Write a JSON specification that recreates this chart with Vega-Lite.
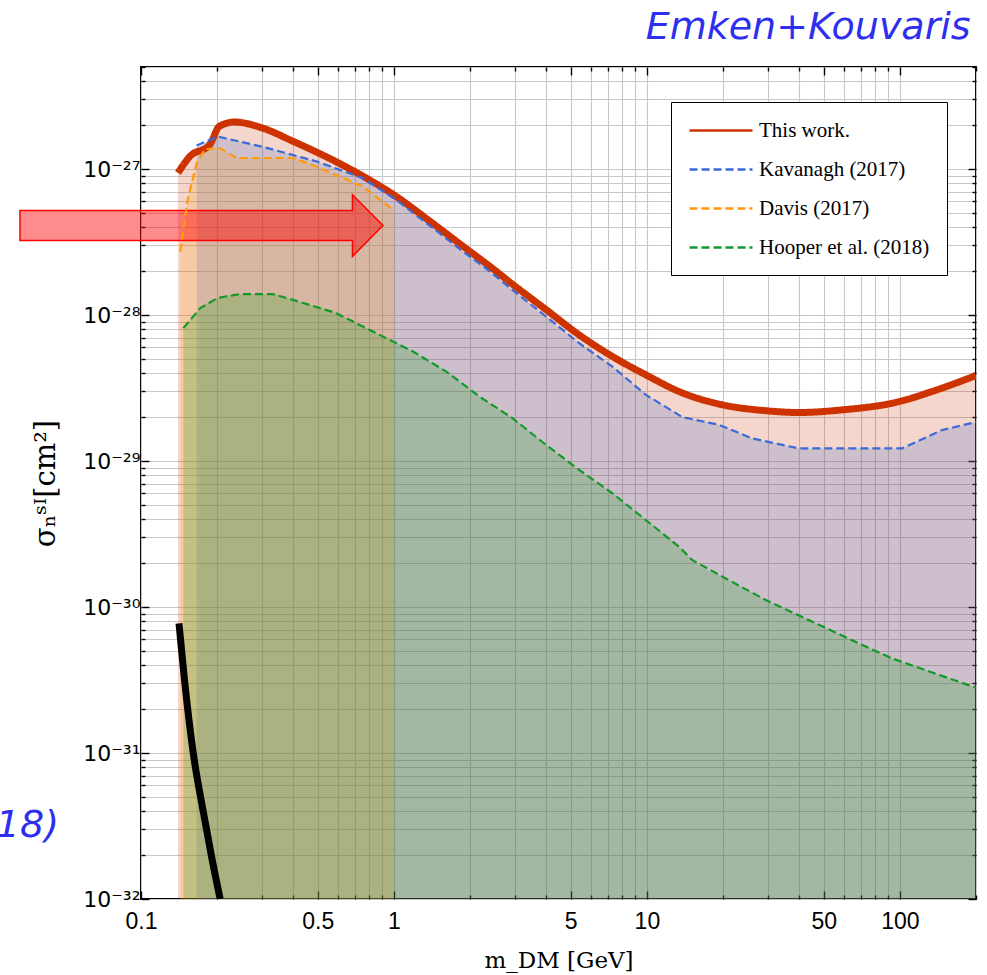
{
  "$schema": "https://vega.github.io/schema/vega-lite/v6.json",
  "autosize": "none",
  "width": 835,
  "height": 832,
  "padding": {"left": 141, "top": 67, "right": 11, "bottom": 76},
  "background": "white",
  "config": {
    "view": {"stroke": "black", "strokeWidth": 2},
    "axis": {
      "gridColor": "#C8C8C8",
      "gridWidth": 1.1,
      "tickColor": "black",
      "tickWidth": 1.4,
      "domain": false,
      "labelFont": "Liberation Sans",
      "labelFontSize": 23,
      "labelColor": "black",
      "titleColor": "black",
      "titleFontWeight": "normal"
    }
  },
  "datasets": {
    "curves": [
      {"s": "This work.", "m": 0.14, "sig": 9.4e-28},
      {"s": "This work.", "m": 0.156, "sig": 1.22e-27},
      {"s": "This work.", "m": 0.187, "sig": 1.47e-27},
      {"s": "This work.", "m": 0.204, "sig": 1.96e-27},
      {"s": "This work.", "m": 0.234, "sig": 2.10e-27},
      {"s": "This work.", "m": 0.302, "sig": 1.91e-27},
      {"s": "This work.", "m": 0.399, "sig": 1.55e-27},
      {"s": "This work.", "m": 0.592, "sig": 1.12e-27},
      {"s": "This work.", "m": 0.753, "sig": 8.95e-28},
      {"s": "This work.", "m": 1.02, "sig": 6.5e-28},
      {"s": "This work.", "m": 1.38, "sig": 4.42e-28},
      {"s": "This work.", "m": 1.86, "sig": 2.99e-28},
      {"s": "This work.", "m": 2.53, "sig": 2.0e-28},
      {"s": "This work.", "m": 2.95, "sig": 1.62e-28},
      {"s": "This work.", "m": 3.99, "sig": 1.09e-28},
      {"s": "This work.", "m": 5.40, "sig": 7.31e-29},
      {"s": "This work.", "m": 7.31, "sig": 5.20e-29},
      {"s": "This work.", "m": 9.91, "sig": 3.89e-29},
      {"s": "This work.", "m": 13.8, "sig": 2.93e-29},
      {"s": "This work.", "m": 19.8, "sig": 2.43e-29},
      {"s": "This work.", "m": 29.6, "sig": 2.21e-29},
      {"s": "This work.", "m": 39.9, "sig": 2.15e-29},
      {"s": "This work.", "m": 59.0, "sig": 2.24e-29},
      {"s": "This work.", "m": 99.1, "sig": 2.55e-29},
      {"s": "This work.", "m": 133.7, "sig": 2.99e-29},
      {"s": "This work.", "m": 200, "sig": 3.85e-29},

      {"s": "Kavanagh (2017)", "m": 0.166, "sig": 1.45e-27},
      {"s": "Kavanagh (2017)", "m": 0.201, "sig": 1.67e-27},
      {"s": "Kavanagh (2017)", "m": 0.303, "sig": 1.42e-27},
      {"s": "Kavanagh (2017)", "m": 0.493, "sig": 1.13e-27},
      {"s": "Kavanagh (2017)", "m": 0.753, "sig": 8.67e-28},
      {"s": "Kavanagh (2017)", "m": 1.02, "sig": 6.16e-28},
      {"s": "Kavanagh (2017)", "m": 1.38, "sig": 4.12e-28},
      {"s": "Kavanagh (2017)", "m": 1.86, "sig": 2.75e-28},
      {"s": "Kavanagh (2017)", "m": 2.31, "sig": 2.09e-28},
      {"s": "Kavanagh (2017)", "m": 2.95, "sig": 1.48e-28},
      {"s": "Kavanagh (2017)", "m": 3.99, "sig": 9.77e-29},
      {"s": "Kavanagh (2017)", "m": 5.40, "sig": 6.41e-29},
      {"s": "Kavanagh (2017)", "m": 7.31, "sig": 4.43e-29},
      {"s": "Kavanagh (2017)", "m": 9.91, "sig": 2.84e-29},
      {"s": "Kavanagh (2017)", "m": 13.8, "sig": 2.0e-29},
      {"s": "Kavanagh (2017)", "m": 19.3, "sig": 1.77e-29},
      {"s": "Kavanagh (2017)", "m": 26.0, "sig": 1.43e-29},
      {"s": "Kavanagh (2017)", "m": 39.9, "sig": 1.22e-29},
      {"s": "Kavanagh (2017)", "m": 102, "sig": 1.22e-29},
      {"s": "Kavanagh (2017)", "m": 147, "sig": 1.63e-29},
      {"s": "Kavanagh (2017)", "m": 200, "sig": 1.85e-29},

      {"s": "Davis (2017)", "m": 0.143, "sig": 2.72e-28},
      {"s": "Davis (2017)", "m": 0.153, "sig": 6.16e-28},
      {"s": "Davis (2017)", "m": 0.166, "sig": 1.10e-27},
      {"s": "Davis (2017)", "m": 0.179, "sig": 1.37e-27},
      {"s": "Davis (2017)", "m": 0.205, "sig": 1.39e-27},
      {"s": "Davis (2017)", "m": 0.238, "sig": 1.19e-27},
      {"s": "Davis (2017)", "m": 0.399, "sig": 1.19e-27},
      {"s": "Davis (2017)", "m": 0.493, "sig": 1.04e-27},
      {"s": "Davis (2017)", "m": 0.753, "sig": 7.6e-28},
      {"s": "Davis (2017)", "m": 1.0, "sig": 5.2e-28},

      {"s": "Hooper et al. (2018)", "m": 0.147, "sig": 8.13e-29},
      {"s": "Hooper et al. (2018)", "m": 0.171, "sig": 1.11e-28},
      {"s": "Hooper et al. (2018)", "m": 0.201, "sig": 1.31e-28},
      {"s": "Hooper et al. (2018)", "m": 0.245, "sig": 1.39e-28},
      {"s": "Hooper et al. (2018)", "m": 0.333, "sig": 1.39e-28},
      {"s": "Hooper et al. (2018)", "m": 0.399, "sig": 1.27e-28},
      {"s": "Hooper et al. (2018)", "m": 0.592, "sig": 1.03e-28},
      {"s": "Hooper et al. (2018)", "m": 0.753, "sig": 8.34e-29},
      {"s": "Hooper et al. (2018)", "m": 1.19, "sig": 5.62e-29},
      {"s": "Hooper et al. (2018)", "m": 1.61, "sig": 4.10e-29},
      {"s": "Hooper et al. (2018)", "m": 2.18, "sig": 2.76e-29},
      {"s": "Hooper et al. (2018)", "m": 2.95, "sig": 1.96e-29},
      {"s": "Hooper et al. (2018)", "m": 3.99, "sig": 1.29e-29},
      {"s": "Hooper et al. (2018)", "m": 5.40, "sig": 8.69e-30},
      {"s": "Hooper et al. (2018)", "m": 7.31, "sig": 6.01e-30},
      {"s": "Hooper et al. (2018)", "m": 9.91, "sig": 3.94e-30},
      {"s": "Hooper et al. (2018)", "m": 13.4, "sig": 2.59e-30},
      {"s": "Hooper et al. (2018)", "m": 15.1, "sig": 2.10e-30},
      {"s": "Hooper et al. (2018)", "m": 20.5, "sig": 1.57e-30},
      {"s": "Hooper et al. (2018)", "m": 29.4, "sig": 1.12e-30},
      {"s": "Hooper et al. (2018)", "m": 43.6, "sig": 8.15e-31},
      {"s": "Hooper et al. (2018)", "m": 68.8, "sig": 5.64e-31},
      {"s": "Hooper et al. (2018)", "m": 93.1, "sig": 4.45e-31},
      {"s": "Hooper et al. (2018)", "m": 126, "sig": 3.70e-31},
      {"s": "Hooper et al. (2018)", "m": 200, "sig": 2.8e-31}
    ],
    "bound": [
      {"m": 0.1413, "sig": 7.73e-31},
      {"m": 0.1486, "sig": 3.16e-31},
      {"m": 0.1609, "sig": 1.0e-31},
      {"m": 0.1767, "sig": 3.87e-32},
      {"m": 0.1912, "sig": 1.85e-32},
      {"m": 0.2056, "sig": 1.0e-32}
    ],
    "notes": [
      {"kind": "arrow", "m": 0.1734, "sig": 4.1e-28, "text": ""},
      {"kind": "cut", "m": 0.0474, "sig": 2.65e-32, "text": "(2018)"},
      {"kind": "head", "m": 190.5, "sig": 7.78e-27, "text": "Emken+Kouvaris"}
    ]
  },
  "resolve": {"axis": {"x": "independent", "y": "independent"}},
  "layer": [
    {
      "data": {"name": "curves"},
      "transform": [{"filter": "datum.s == 'This work.'"}],
      "mark": {"type": "area", "fill": "#CC3300", "fillOpacity": 0.2, "clip": true, "interpolate": "monotone"},
      "encoding": {
        "x": {
          "field": "m", "type": "quantitative",
          "scale": {"type": "log", "domain": [0.1, 200], "nice": false},
          "axis": {
            "orient": "bottom",
            "values": [0.1,0.2,0.3,0.4,0.5,0.6,0.7,0.8,0.9,1,2,3,4,5,6,7,8,9,10,20,30,40,50,60,70,80,90,100,200],
            "grid": true,
            "tickSize": {"condition": {"test": "indexof([0.1,0.5,1,5,10,50,100], datum.value) >= 0", "value": -8}, "value": -4},
            "labelExpr": "indexof([0.1,0.5,1,5,10,50,100], datum.value) >= 0 ? format(datum.value, '~g') : ''",
            "labelOverlap": false,
            "labelFlush": false,
            "labelBound": false,
            "labelPadding": 19,
            "title": "m_DM [GeV]",
            "titleFont": "DejaVu Serif",
            "titleFontSize": 23,
            "titlePadding": 12
          }
        },
        "y": {
          "field": "sig", "type": "quantitative",
          "scale": {"type": "log", "domain": [1e-32, 5e-27], "nice": false},
          "axis": {
            "orient": "left",
            "values": [1e-32,2e-32,3e-32,4e-32,5e-32,6e-32,7e-32,8e-32,9e-32,1e-31,2e-31,3e-31,4e-31,5e-31,6e-31,7e-31,8e-31,9e-31,1e-30,2e-30,3e-30,4e-30,5e-30,6e-30,7e-30,8e-30,9e-30,1e-29,2e-29,3e-29,4e-29,5e-29,6e-29,7e-29,8e-29,9e-29,1e-28,2e-28,3e-28,4e-28,5e-28,6e-28,7e-28,8e-28,9e-28,1e-27,2e-27,3e-27,4e-27,5e-27],
            "grid": true,
            "tickSize": {"condition": {"test": "abs(log(datum.value)/LN10 - round(log(datum.value)/LN10)) < 0.001", "value": -8}, "value": -4},
            "labelExpr": "abs(log(datum.value)/LN10 - round(log(datum.value)/LN10)) < 0.001 ? '10' + replace(replace(replace(replace(replace(replace(replace(replace('' + round(log(datum.value)/LN10), '-', '⁻'), '2', '²'), '3', '³'), '7', '⁷'), '8', '⁸'), '9', '⁹'), '1', '¹'), '0', '⁰') : ''",
            "labelFont": "DejaVu Sans",
            "labelFontSize": 22,
            "labelOverlap": false,
            "labelFlush": false,
            "labelBound": false,
            "labelPadding": 9,
            "title": "σₙˢᴵ[cm²]",
            "titleFont": "DejaVu Serif",
            "titleFontSize": 29,
            "titlePadding": 22
          }
        },
        "y2": {"datum": 1e-32}
      }
    },
    {
      "data": {"name": "curves"},
      "transform": [{"filter": "datum.s == 'Kavanagh (2017)'"}],
      "mark": {"type": "area", "fill": "#3366CC", "fillOpacity": 0.2, "clip": true},
      "encoding": {
        "x": {
          "field": "m", "type": "quantitative",
          "axis": {
            "orient": "top",
            "values": [0.1,0.2,0.3,0.4,0.5,0.6,0.7,0.8,0.9,1,2,3,4,5,6,7,8,9,10,20,30,40,50,60,70,80,90,100,200],
            "grid": false,
            "labels": false,
            "title": null,
            "tickSize": {"condition": {"test": "indexof([0.1,0.5,1,5,10,50,100], datum.value) >= 0", "value": -8}, "value": -4}
          }
        },
        "y": {
          "field": "sig", "type": "quantitative",
          "axis": {
            "orient": "right",
            "values": [1e-32,2e-32,3e-32,4e-32,5e-32,6e-32,7e-32,8e-32,9e-32,1e-31,2e-31,3e-31,4e-31,5e-31,6e-31,7e-31,8e-31,9e-31,1e-30,2e-30,3e-30,4e-30,5e-30,6e-30,7e-30,8e-30,9e-30,1e-29,2e-29,3e-29,4e-29,5e-29,6e-29,7e-29,8e-29,9e-29,1e-28,2e-28,3e-28,4e-28,5e-28,6e-28,7e-28,8e-28,9e-28,1e-27,2e-27,3e-27,4e-27,5e-27],
            "grid": false,
            "labels": false,
            "title": null,
            "tickSize": {"condition": {"test": "abs(log(datum.value)/LN10 - round(log(datum.value)/LN10)) < 0.001", "value": -8}, "value": -4}
          }
        },
        "y2": {"datum": 1e-32}
      }
    },
    {
      "data": {"name": "curves"},
      "transform": [{"filter": "datum.s == 'Davis (2017)'"}],
      "mark": {"type": "area", "fill": "#FF9900", "fillOpacity": 0.2, "clip": true},
      "encoding": {
        "x": {"field": "m", "type": "quantitative", "axis": null},
        "y": {"field": "sig", "type": "quantitative", "axis": null},
        "y2": {"datum": 1e-32}
      }
    },
    {
      "data": {"name": "curves"},
      "transform": [{"filter": "datum.s == 'Hooper et al. (2018)'"}],
      "mark": {"type": "area", "fill": "#009900", "fillOpacity": 0.2, "clip": true, "interpolate": "monotone"},
      "encoding": {
        "x": {"field": "m", "type": "quantitative", "axis": null},
        "y": {"field": "sig", "type": "quantitative", "axis": null},
        "y2": {"datum": 1e-32}
      }
    },
    {
      "data": {"name": "notes"},
      "transform": [{"filter": "datum.kind == 'arrow'"}],
      "mark": {
        "type": "point",
        "shape": "M -6.05 -0.5 L 5.033 -0.5 L 5.033 -1.027 L 6.05 0 L 5.033 1.027 L 5.033 0.5 L -6.05 0.5 Z",
        "size": 3600,
        "filled": true,
        "fill": "#FF0000",
        "fillOpacity": 0.45,
        "stroke": "#FF0000",
        "strokeWidth": 1.5,
        "opacity": 1
      },
      "encoding": {
        "x": {"field": "m", "type": "quantitative", "axis": null},
        "y": {"field": "sig", "type": "quantitative", "axis": null}
      }
    },
    {
      "data": {"name": "curves"},
      "transform": [{"filter": "datum.s == 'This work.'"}],
      "mark": {"type": "line", "strokeWidth": 7, "clip": true, "strokeCap": "butt", "interpolate": "monotone"},
      "encoding": {
        "x": {"field": "m", "type": "quantitative", "axis": null},
        "y": {"field": "sig", "type": "quantitative", "axis": null},
        "color": {
          "field": "s", "type": "nominal",
          "scale": {
            "domain": ["This work.", "Kavanagh (2017)", "Davis (2017)", "Hooper et al. (2018)"],
            "range": ["#CC3300", "#3A6AD8", "#FF9A0A", "#119A2A"]
          },
          "legend": {
            "title": null,
            "orient": "none",
            "legendX": 530,
            "legendY": 35,
            "direction": "vertical",
            "symbolType": "M -1 0 L 5.3 0",
            "symbolSize": 400,
            "symbolStrokeWidth": 2.5,
            "symbolFillColor": "transparent",
            "labelFont": "Liberation Serif",
            "labelFontSize": 21,
            "labelColor": "black",
            "labelOffset": 48,
            "labelLimit": 300,
            "padding": 17,
            "rowPadding": 17,
            "strokeColor": "black",
            "fillColor": "white"
          }
        },
        "strokeDash": {
          "field": "s", "type": "nominal",
          "scale": {
            "domain": ["This work.", "Kavanagh (2017)", "Davis (2017)", "Hooper et al. (2018)"],
            "range": [[1, 0], [8, 4], [8, 4], [8, 4]]
          },
          "legend": {"title": null}
        }
      }
    },
    {
      "data": {"name": "curves"},
      "transform": [{"filter": "datum.s != 'This work.'"}],
      "mark": {"type": "line", "strokeWidth": 2.2, "clip": true},
      "encoding": {
        "x": {"field": "m", "type": "quantitative", "axis": null},
        "y": {"field": "sig", "type": "quantitative", "axis": null},
        "color": {"field": "s", "type": "nominal"},
        "strokeDash": {"field": "s", "type": "nominal"}
      }
    },
    {
      "data": {"name": "bound"},
      "mark": {"type": "line", "color": "black", "strokeWidth": 7, "clip": true, "strokeCap": "butt", "interpolate": "monotone"},
      "encoding": {
        "x": {"field": "m", "type": "quantitative", "axis": null},
        "y": {"field": "sig", "type": "quantitative", "axis": null}
      }
    },
    {
      "data": {"name": "notes"},
      "transform": [{"filter": "datum.kind != 'arrow'"}],
      "mark": {
        "type": "text",
        "align": "right",
        "baseline": "alphabetic",
        "font": "DejaVu Sans",
        "fontSize": 38,
        "fontStyle": "italic",
        "color": "#2E2EF0"
      },
      "encoding": {
        "x": {"field": "m", "type": "quantitative", "axis": null},
        "y": {"field": "sig", "type": "quantitative", "axis": null},
        "text": {"field": "text"}
      }
    }
  ]
}
